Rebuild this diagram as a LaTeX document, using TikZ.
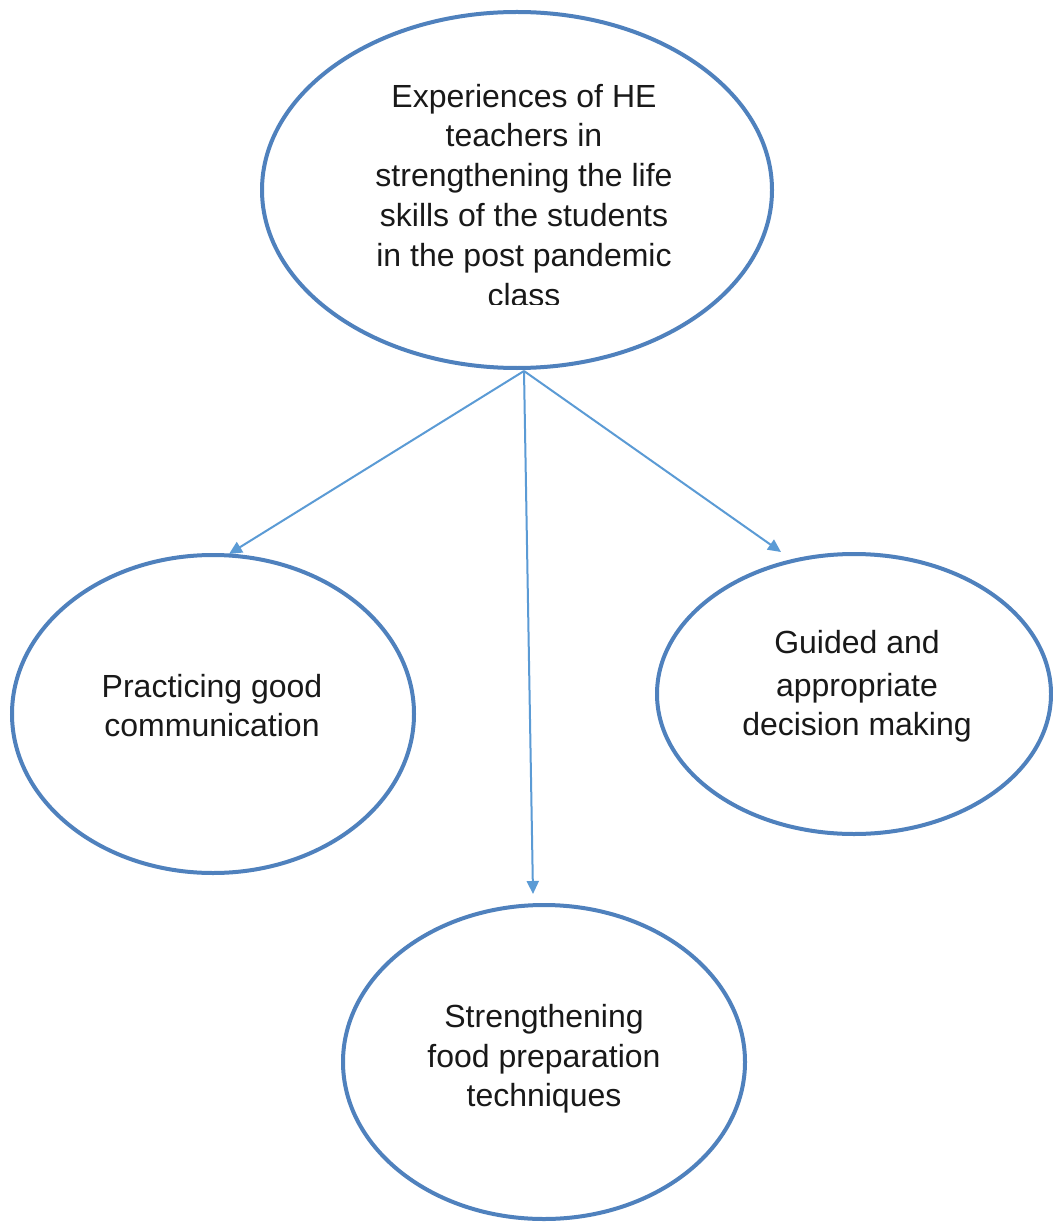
\documentclass[tikz,border=0pt]{standalone}
\usepackage{fontspec}
\setmainfont{Liberation Sans}
\usetikzlibrary{shapes.geometric,arrows.meta}
\definecolor{ringblue}{HTML}{4F81BD}
\definecolor{arrowblue}{HTML}{5B9BD5}
\begin{document}
\begin{tikzpicture}[x=1pt,y=-1pt,
  ring/.style={draw=ringblue,line width=4pt,ellipse,inner sep=0pt,outer sep=0pt},
  txt/.style={align=center,inner sep=0pt,outer sep=0pt,font=\fontsize{32}{39.8}\selectfont,text=black!90},
  conn/.style={draw=arrowblue,line width=2pt,-{Triangle[length=13pt,width=12pt]}}]
\useasboundingbox[fill=white] (0,0) rectangle (1052,1222);
% ellipses
\node[ring,minimum width=510pt,minimum height=356pt] (top) at (517,190) {};
\node[ring,minimum width=402pt,minimum height=318pt] (left) at (213,714) {};
\node[ring,minimum width=394pt,minimum height=280pt] (right) at (854,694) {};
\node[ring,minimum width=402pt,minimum height=314pt] (bottom) at (544,1062) {};
% texts
\begin{scope}
\clip (0,0) rectangle (1052,304);
\node[txt,anchor=north] (toptxt) at (524,84) {Experiences of HE\\teachers in\\strengthening the life\\skills of the students\\in the post pandemic\\class};
\end{scope}
\node[txt,anchor=north] (lefttxt) at (212,674) {Practicing good\\communication};
\node[txt,anchor=north] (righttxt) at (857,630) {Guided and\\[4pt]appropriate\\[-1pt]decision making};
\node[txt,anchor=north] (bottomtxt) at (544,1004) {Strengthening\\food preparation\\techniques};
% connectors
\coordinate (src) at (524,371);
\coordinate (endL) at (229,554);
\coordinate (endB) at (533,894);
\coordinate (endR) at (781,552);
\draw[conn] (src) -- (endL);
\draw[conn] (src) -- (endB);
\draw[conn] (src) -- (endR);
\end{tikzpicture}
\end{document}
